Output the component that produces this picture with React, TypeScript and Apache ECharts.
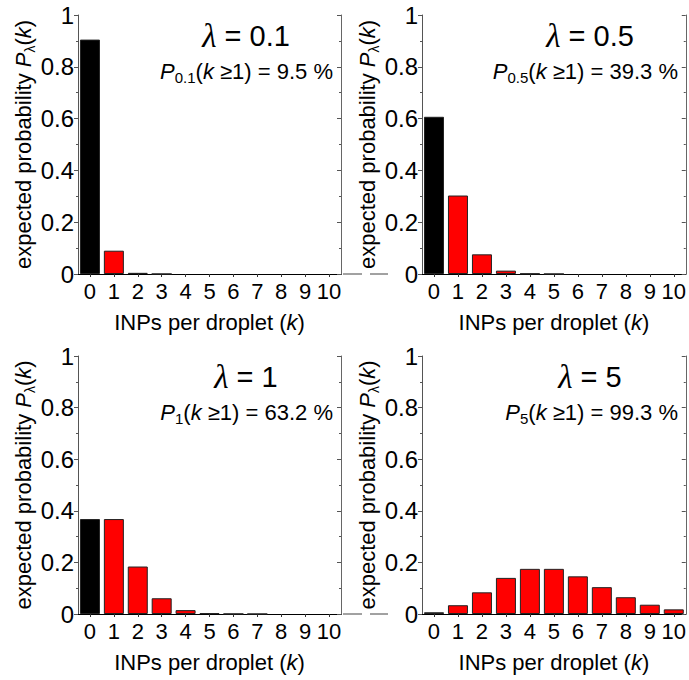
import React, { useEffect, useRef } from "react";
import * as echarts from "echarts";

const categories = ["0", "1", "2", "3", "4", "5", "6", "7", "8", "9", "10"];
const lambdaLabels = ["0.1", "0.5", "1", "5"];
const percentLabels = ["9.5", "39.3", "63.2", "99.3"];
const p01 = [0.905, 0.09, 0.0045, 0.0002, 0, 0, 0, 0, 0, 0, 0];
const p05 = [0.607, 0.303, 0.076, 0.013, 0.0016, 0.0002, 0, 0, 0, 0, 0];
const p1 = [0.368, 0.368, 0.184, 0.061, 0.015, 0.003, 0.0005, 0.0001, 0, 0, 0];
const p5 = [0.0067, 0.034, 0.084, 0.14, 0.175, 0.175, 0.146, 0.104, 0.065, 0.036, 0.018];
const panelData = [p01, p05, p1, p5];

const FONT = "'Liberation Sans', Arial, sans-serif";
const SERIF = "'Liberation Serif', 'Times New Roman', serif";

const grids = [
  { left: 78, top: 15, width: 263, height: 259 },
  { left: 422, top: 15, width: 264, height: 259 },
  { left: 78, top: 356, width: 263, height: 258 },
  { left: 422, top: 356, width: 264, height: 258 },
];

export default function App() {
  const ref = useRef<HTMLDivElement>(null);
  useEffect(() => {
    if (!ref.current) return;
    const chart = echarts.init(ref.current, undefined, { renderer: "svg" });
    const xAxes: any[] = [];
    const yAxes: any[] = [];
    const series: any[] = [];
    const graphic: any[] = [];
    grids.forEach((g, i) => {
      xAxes.push({
        type: "category",
        gridIndex: i,
        data: categories,
        position: "bottom",
        axisLine: { show: true, lineStyle: { color: "#000", width: 1 } },
        axisTick: { show: true, alignWithLabel: true, length: 3, lineStyle: { color: "#333" } },
        axisLabel: { interval: 0, fontSize: 22, color: "#000", fontFamily: FONT, margin: 6 },
        name: "{n|INPs per droplet (}{i|k}{n|)}",
        nameLocation: "middle",
        nameGap: 37,
        nameTextStyle: {
          rich: {
            n: { fontSize: 22, fontFamily: FONT, color: "#000" },
            i: { fontSize: 22, fontFamily: FONT, fontStyle: "italic", color: "#000" },
          },
        },
      });
      xAxes.push({
        type: "category",
        gridIndex: i,
        data: categories,
        position: "top",
        axisLine: { show: true, lineStyle: { color: "#000", width: 1 } },
        axisTick: { show: false },
        axisLabel: { show: false },
      });
      yAxes.push({
        type: "value",
        gridIndex: i,
        min: 0,
        max: 1,
        interval: 0.2,
        position: "left",
        axisLine: { show: true, lineStyle: { color: "#555", width: 1 } },
        axisTick: { show: true, length: 4, inside: false, lineStyle: { color: "#555" } },
        minorTick: { show: true, splitNumber: 2, length: 2, lineStyle: { color: "#555" } },
        splitLine: { show: false },
        axisLabel: { fontSize: 24, color: "#000", fontFamily: FONT, margin: 4 },
        name: "{n|expected probability }{i|P}{s|λ}{n|(}{i|k}{n|)}",
        nameLocation: "middle",
        nameGap: 38,
        nameTextStyle: {
          rich: {
            n: { fontSize: 22, fontFamily: FONT, color: "#000", lineHeight: 26 },
            i: { fontSize: 22, fontFamily: FONT, fontStyle: "italic", color: "#000", lineHeight: 26 },
            s: { fontSize: 14, fontFamily: FONT, color: "#000", lineHeight: 14, verticalAlign: "bottom" },
          },
        },
      });
      yAxes.push({
        type: "value",
        gridIndex: i,
        min: 0,
        max: 1,
        interval: 0.2,
        position: "right",
        axisLine: { show: true, lineStyle: { color: "#666", width: 1 } },
        axisTick: { show: true, length: 4, inside: true, lineStyle: { color: "#555" } },
        minorTick: { show: true, splitNumber: 2, length: 2, lineStyle: { color: "#555" } },
        splitLine: { show: false },
        axisLabel: { show: false },
      });
      series.push({
        type: "bar",
        xAxisIndex: 2 * i,
        yAxisIndex: 2 * i,
        barWidth: 20,
        data: panelData[i].map((v, k) => ({
          value: v,
          itemStyle: {
            color: k === 0 ? "#000000" : "#ff0000",
            borderColor: "#222",
            borderWidth: v > 0 ? 1 : 0,
          },
        })),
      });
      graphic.push({
        type: "text",
        x: g.left + 168,
        y: g.top + 21,
        style: {
          text: "{l|λ}{n| = " + lambdaLabels[i] + "}",
          align: "center",
          textAlign: "center",
          verticalAlign: "middle",
          textVerticalAlign: "middle",
          rich: {
            l: { fontSize: 33, fontFamily: SERIF, fontStyle: "italic", fill: "#000", color: "#000" },
            n: { fontSize: 29, fontFamily: FONT, fill: "#000", color: "#000" },
          },
        },
      });
      graphic.push({
        type: "text",
        x: g.left + g.width - 8,
        y: g.top + 56,
        style: {
          text:
            "{i|P}{s|" + lambdaLabels[i] + "}{n|(}{i|k}{n| ≥1) = " + percentLabels[i] + " %}",
          align: "right",
          textAlign: "right",
          verticalAlign: "middle",
          textVerticalAlign: "middle",
          rich: {
            n: { fontSize: 22, fontFamily: FONT, fill: "#000", color: "#000", lineHeight: 28 },
            i: { fontSize: 22, fontFamily: FONT, fontStyle: "italic", fill: "#000", color: "#000", lineHeight: 28 },
            s: { fontSize: 15, fontFamily: FONT, fill: "#000", color: "#000", lineHeight: 15, verticalAlign: "bottom" },
          },
        },
      });
    });
    [274, 614].forEach((yy) => {
      graphic.push({
        type: "line",
        shape: { x1: 343, y1: yy, x2: 362, y2: yy },
        style: { stroke: "#444", lineWidth: 1 },
      });
      graphic.push({
        type: "line",
        shape: { x1: 370, y1: yy, x2: 388, y2: yy },
        style: { stroke: "#444", lineWidth: 1 },
      });
    });
    chart.setOption({
      animation: false,
      backgroundColor: "#fff",
      textStyle: { fontFamily: FONT },
      grid: grids.map((g) => ({ ...g, containLabel: false })),
      xAxis: xAxes,
      yAxis: yAxes,
      series,
      graphic,
    });
    return () => chart.dispose();
  }, []);
  return (
    <div
      ref={ref}
      style={{ position: "absolute", left: 0, top: 0, width: 689, height: 680, background: "#fff" }}
    />
  );
}
